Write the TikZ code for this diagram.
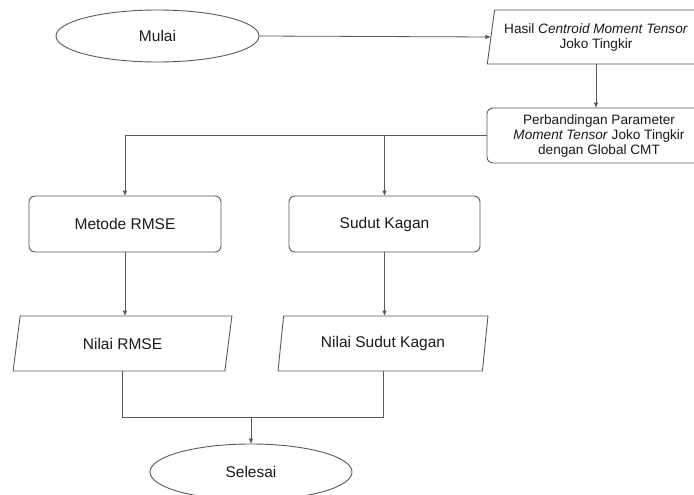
\documentclass[tikz,border=0pt]{standalone}
\usepackage{fontspec}
\setmainfont{Liberation Sans}
\usetikzlibrary{shapes.geometric,arrows.meta}
\definecolor{linegray}{HTML}{5A5A5A}
\definecolor{txtcol}{HTML}{1A1A1A}
\tikzset{
  base/.style={draw=linegray, line width=0.9pt, text=txtcol, inner sep=0pt, align=center},
  bigtxt/.style={font=\fontsize{15.5}{18}\selectfont},
  smalltxt/.style={font=\fontsize{13.6}{15}\selectfont},
  term/.style={base, bigtxt, ellipse},
  procbox/.style={base, rectangle, rounded corners=6pt},
  iobox/.style={base, trapezium, trapezium left angle=76.5, trapezium right angle=103.5, trapezium stretches=true},
  conn/.style={draw=linegray, line width=0.8pt},
  arr/.style={conn, -{Triangle[length=5pt,width=4pt]}},
}
\begin{document}
\begin{tikzpicture}[x=1pt,y=-1pt]
\clip (0,0) rectangle (694,495);
\useasboundingbox (0,0) rectangle (694,495);
\fill[white] (0,0) rectangle (694,495);

\node[term, minimum width=203pt, minimum height=52pt] (mulai) at (157.5,36) {Mulai};
\node[iobox, smalltxt, minimum width=218pt, minimum height=54pt] (hasil) at (596,37)
  {Hasil \textit{Centroid Moment Tensor}\\Joko Tingkir};
\node[procbox, smalltxt, minimum width=224pt, minimum height=55pt] (perb) at (599,135.5)
  {Perbandingan Parameter\\\textit{Moment Tensor} Joko Tingkir\\dengan Global CMT};
\node[procbox, bigtxt, minimum width=192pt, minimum height=56pt] (metode) at (125,224) {Metode RMSE};
\node[procbox, bigtxt, minimum width=191pt, minimum height=56pt] (sudut) at (384.5,224) {Sudut Kagan};
\node[iobox, bigtxt, minimum width=219pt, minimum height=55pt] (nrmse) at (122.5,343.5) {Nilai RMSE};
\node[iobox, bigtxt, minimum width=210pt, minimum height=55pt] (nsk) at (383,343.5) {Nilai Sudut Kagan};
\node[term, minimum width=202pt, minimum height=56pt] (selesai) at (251,472) {Selesai};

\coordinate (join) at (251,417);

\draw[arr] (mulai.east) -- (hasil.west);
\draw[arr] (hasil.south) -- (hasil.south |- perb.north);
\draw[arr] (perb.west) -| (metode.north);
\draw[arr] (sudut.north |- perb.west) -- (sudut.north);
\draw[arr] (metode.south) -- (metode.south |- nrmse.north);
\draw[arr] (sudut.south) -- (sudut.south |- nsk.north);
\draw[conn] (nrmse.south) -- (nrmse.south |- join) -- (nsk.south |- join) -- (nsk.south);
\draw[arr] (join) -- (selesai.north);
\end{tikzpicture}
\end{document}
